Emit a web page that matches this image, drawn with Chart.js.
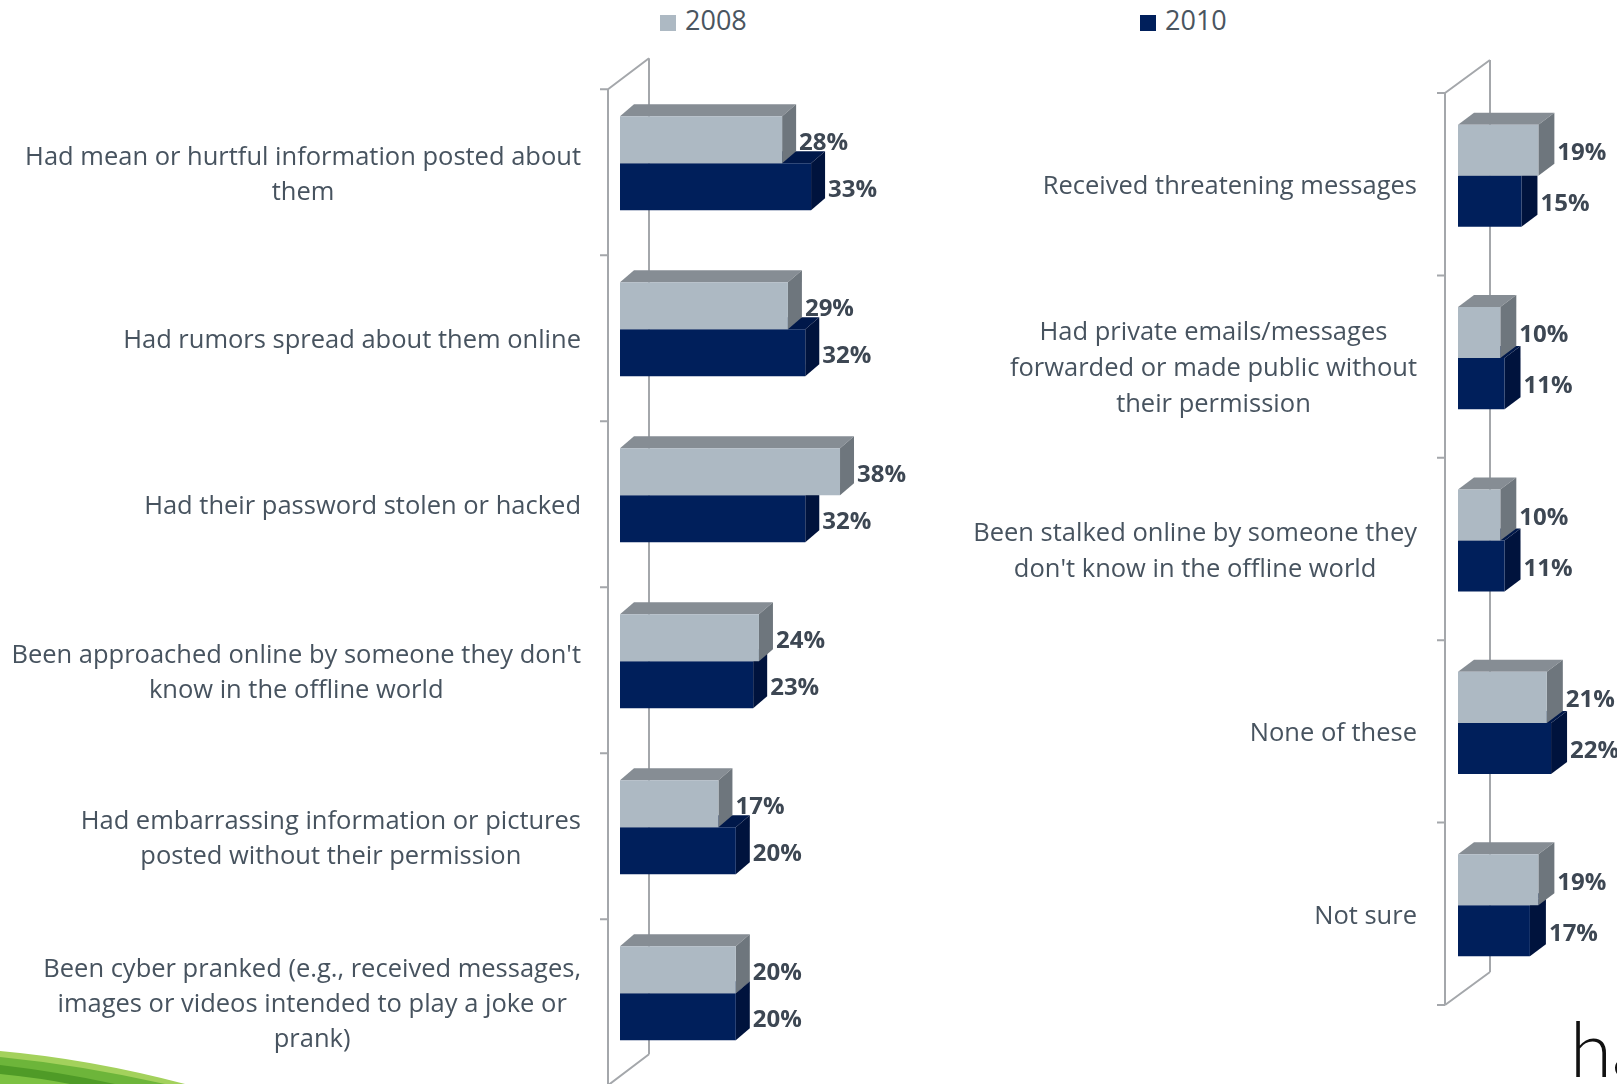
<!DOCTYPE html>
<html>
<head>
<meta charset="utf-8">
<script src="https://cdn.jsdelivr.net/npm/chart.js@4.4.1/dist/chart.umd.min.js"></script>
<style>
  html, body { margin: 0; padding: 0; background: #fff; overflow: hidden; }
  body { width: 1617px; height: 1084px; position: relative; font-family: 'Open Sans', sans-serif; }
  canvas { position: absolute; left: 0; top: 0; }
  .legend { position: absolute; top: 0; height: 40px; line-height: 40px; font-size: 27px; color: #4a5560; white-space: nowrap; }
  .legend i { display: inline-block; width: 16px; height: 16px; margin-right: 9px; vertical-align: -1px; }
  .swoosh { position: absolute; left: 0; top: 1034px; }
  .brand { position: absolute; left: 1570px; top: 1010px; font-family: Lato, sans-serif; font-weight: 300; font-size: 76px; color: #111; line-height: 1; }
</style>
</head>
<body>
<div id="legend"></div>
<canvas id="leftChart" width="1617" height="1084"></canvas>
<canvas id="rightChart" width="1617" height="1084"></canvas>
<svg class="swoosh" width="260" height="50">
  <path d="M0,17 Q90,25 185,50 L0,50 Z" fill="#a3d15c"/>
  <path d="M0,23 Q80,31 165,50 L0,50 Z" fill="#6db53a"/>
  <path d="M0,31 Q60,38 115,50 L0,50 Z" fill="#4f9b27"/>
  <path d="M0,40 Q40,44 70,50 L0,50 Z" fill="#7cc142"/>
</svg>
<div class="brand">ha</div>
<script>
// Online incidents experienced, 2008 vs 2010 (%)
const seriesNames = ['2008', '2010'];

const leftLabels = [
  ['Had mean or hurtful information posted about', 'them'],
  ['Had rumors spread about them online'],
  ['Had their password stolen or hacked'],
  ["Been approached online by someone they don't", 'know in the offline world'],
  ['Had embarrassing information or pictures', 'posted without their permission'],
  ['Been cyber pranked (e.g., received messages,', 'images or videos intended to play a joke or', 'prank)']
];
const left2008 = [28, 29, 38, 24, 17, 20];
const left2010 = [33, 32, 32, 23, 20, 20];

const rightLabels = [
  ['Received threatening messages'],
  ['Had private emails/messages', 'forwarded or made public without', 'their permission'],
  ['Been stalked online by someone they', "don't know in the offline world"],
  ['None of these'],
  ['Not sure']
];
const right2008 = [19, 10, 10, 21, 19];
const right2010 = [15, 11, 11, 22, 17];

// front / top / side face colours per series
const faces = [
  { front: '#adb9c3', top: '#868d94', side: '#6e767d' },
  { front: '#001f5b', top: '#00184a', side: '#00133d' }
];

const LABEL_FONT = '25.5px "Open Sans", sans-serif';
const VALUE_FONT = 'bold 24px "Open Sans", sans-serif';
const LABEL_COLOR = '#47535f';
const VALUE_COLOR = '#3d4753';
const AXIS_COLOR = '#a4a7ab';

// legend along the top
const legendX = [660, 1140];
seriesNames.forEach((name, i) => {
  const d = document.createElement('div');
  d.className = 'legend';
  d.style.left = legendX[i] + 'px';
  d.innerHTML = '<i style="background:' + faces[i].front + '"></i>' + name;
  document.getElementById('legend').appendChild(d);
});

// Draws the 3D wall, bar extrusions, value labels and category labels
const bar3d = {
  id: 'bar3d',
  beforeDatasetsDraw(chart, args, o) {
    const { ctx, chartArea: a } = chart;
    const n = chart.data.labels.length;
    const fx = a.left - o.front.dx, t = a.top + o.front.dy, b = a.bottom + o.front.dy;
    ctx.save();
    ctx.strokeStyle = AXIS_COLOR;
    ctx.lineWidth = 2;
    ctx.beginPath();
    // back wall edge
    ctx.moveTo(fx + o.wall.dx, t + o.wall.dy);
    ctx.lineTo(fx + o.wall.dx, b + o.wall.dy);
    // floor / ceiling diagonals
    ctx.moveTo(fx, t); ctx.lineTo(fx + o.wall.dx, t + o.wall.dy);
    ctx.moveTo(fx, b); ctx.lineTo(fx + o.wall.dx, b + o.wall.dy);
    // front axis and ticks
    ctx.moveTo(fx, t); ctx.lineTo(fx, b);
    for (let i = 0; i <= n; i++) {
      const y = t + (b - t) * i / n;
      ctx.moveTo(fx - 8, y); ctx.lineTo(fx, y);
    }
    ctx.stroke();
    ctx.restore();
  },
  beforeDatasetDraw(chart, args, o) {
    const { ctx } = chart;
    const c = faces[args.index];
    const d = o.depth;
    ctx.save();
    args.meta.data.forEach(bar => {
      const { x, y, base, height } = bar.getProps(['x', 'y', 'base', 'height'], true);
      const top = y - height / 2, bot = y + height / 2;
      ctx.fillStyle = c.top;
      ctx.beginPath();
      ctx.moveTo(base, top); ctx.lineTo(base + d.dx, top + d.dy);
      ctx.lineTo(x + d.dx, top + d.dy); ctx.lineTo(x, top);
      ctx.closePath(); ctx.fill();
      ctx.fillStyle = c.side;
      ctx.beginPath();
      ctx.moveTo(x, top); ctx.lineTo(x + d.dx, top + d.dy);
      ctx.lineTo(x + d.dx, bot + d.dy); ctx.lineTo(x, bot);
      ctx.closePath(); ctx.fill();
    });
    ctx.restore();
  },
  afterDatasetsDraw(chart, args, o) {
    const { ctx } = chart;
    ctx.save();
    // value labels
    ctx.font = VALUE_FONT;
    ctx.fillStyle = VALUE_COLOR;
    ctx.textAlign = 'left';
    ctx.textBaseline = 'middle';
    chart.data.datasets.forEach((ds, i) => {
      chart.getDatasetMeta(i).data.forEach((bar, j) => {
        const { x, y } = bar.getProps(['x', 'y'], true);
        ctx.fillText(ds.data[j] + '%', x + o.depth.dx + 3, y + 3);
      });
    });
    // category labels: block right-aligned, lines centred inside it
    ctx.font = LABEL_FONT;
    ctx.fillStyle = LABEL_COLOR;
    ctx.textAlign = 'center';
    const yScale = chart.scales.y;
    chart.data.labels.forEach((lines, i) => {
      const w = Math.max(...lines.map(s => ctx.measureText(s).width));
      const cx = o.labelRight - w / 2;
      const cy = yScale.getPixelForValue(i) + o.front.dy + 2.5;
      lines.forEach((s, k) => {
        ctx.fillText(s, cx, cy + (k - (lines.length - 1) / 2) * o.lineHeight);
      });
    });
    ctx.restore();
  }
};

function makeChart(id, labels, a, b, xMax, catPct, padding, o) {
  return new Chart(document.getElementById(id), {
    type: 'bar',
    data: {
      labels: labels,
      datasets: [
        { label: seriesNames[0], data: a, backgroundColor: faces[0].front, borderWidth: 0 },
        { label: seriesNames[1], data: b, backgroundColor: faces[1].front, borderWidth: 0 }
      ]
    },
    options: {
      responsive: false,
      animation: false,
      indexAxis: 'y',
      layout: { padding: padding },
      datasets: { bar: { barPercentage: 1, categoryPercentage: catPct } },
      plugins: { legend: { display: false }, tooltip: { enabled: false }, bar3d: o },
      scales: {
        x: { display: false, min: 0, max: xMax },
        y: { display: false }
      }
    },
    plugins: [bar3d]
  });
}

makeChart('leftChart', leftLabels, left2008, left2010, 40, 0.566,
  { left: 620, right: 765.4, top: 80.3, bottom: 7.7 },
  { depth: { dx: 14, dy: -12 }, front: { dx: 12, dy: 9 }, wall: { dx: 41, dy: -31 },
    labelRight: 581, lineHeight: 35 });

makeChart('rightChart', rightLabels, right2008, right2010, 25, 0.56,
  { left: 1458, right: 53.25, top: 84.5, bottom: 87.5 },
  { depth: { dx: 16, dy: -12 }, front: { dx: 13, dy: 8.5 }, wall: { dx: 45, dy: -33 },
    labelRight: 1417, lineHeight: 36 });
</script>
</body>
</html>
